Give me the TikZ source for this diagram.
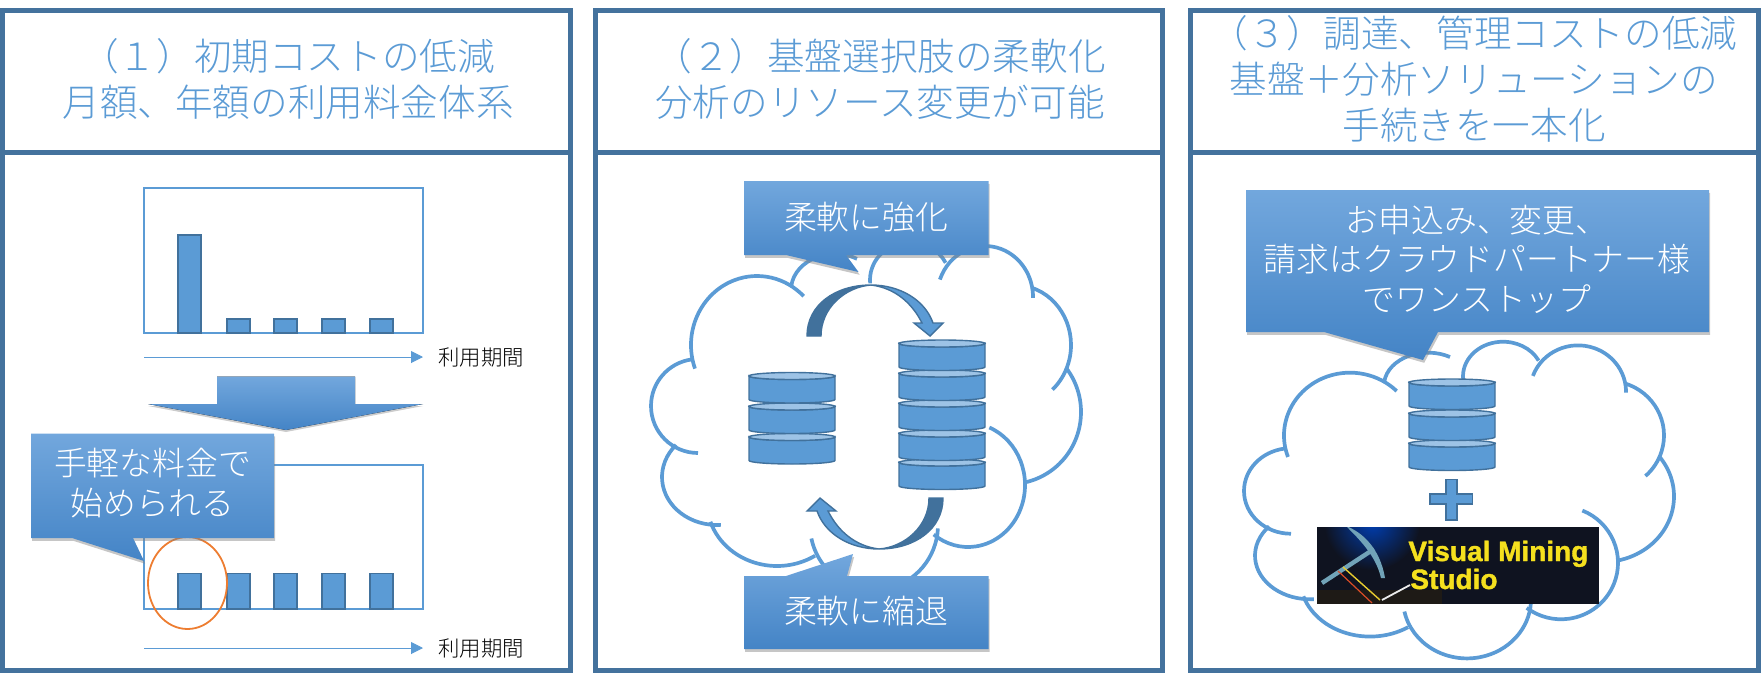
\documentclass[tikz,border=0pt]{standalone}
\usepackage{fontspec}
\setmainfont{Noto Sans CJK JP Light}
\newfontfamily\logofont[BoldFeatures={FakeBold=1.3}]{Liberation Sans}
\usetikzlibrary{positioning,arrows.meta,shadows}
\definecolor{framecol}{HTML}{44729D}
\definecolor{officeblue}{HTML}{5B9BD5}
\definecolor{darkblue}{HTML}{41719C}
\definecolor{lightblue}{HTML}{9DC3E6}
\definecolor{gradtop}{HTML}{72A7DD}
\definecolor{gradbot}{HTML}{4484C6}
\definecolor{ringcol}{HTML}{ED7D31}
\definecolor{logobg}{HTML}{0F1320}
\definecolor{logobrown}{HTML}{1E1A16}
\definecolor{logoyellow}{HTML}{F5E01E}
\tikzset{
  dbstack/.pic={
    \foreach \ty in {#1} {
      \draw[dbedge, fill=officeblue] (-43,\ty+3.5) -- (-43,\ty+27) arc[start angle=180, end angle=0, x radius=43, y radius=3.5] -- (43,\ty+3.5) arc[start angle=0, end angle=180, x radius=43, y radius=3.5] -- cycle;
      \draw[dbedge, fill=lightblue] (0,\ty+3.5) ellipse[x radius=43, y radius=3.5];
    }
  },
  cloudshape/.pic={
    \foreach \cx/\cy/\rx/\ry/\sa/\ea in {167/195/66/69/160/315, 245/140/44/36/186/300, 320/130/40/38/175/333, 395/147/48/51/200/361, 425/195/56/60/287/408, 420/262/71/72/322/439, 378/335/57/62/292/487, 284/375/64/65/168/3, 187/352/70/64/162/57, 127/327/55/48/86/222, 108/256/47/47/90/262} {
      \draw[cloudedge] ({\cx+\rx*cos(\sa)},{#1*(\cy+\ry*sin(\sa))}) arc[start angle=\sa, end angle=\ea, x radius=\rx, y radius={#1*\ry}];
    }
  },
  turnarrow/.pic={
    \filldraw[dbedge, fill=darkblue] (-68,-81) .. controls (-68,-112) and (-40,-132) .. (-4,-132) .. controls (-30,-130) and (-54,-109) .. (-54,-81) -- cycle;
    \filldraw[dbedge, fill=officeblue] (-4,-132) .. controls (25,-132) and (50,-117) .. (58,-94) -- (68,-94) -- (55,-81) -- (39,-94) -- (47,-94) .. controls (37,-114) and (20,-129) .. (-4,-132) -- cycle;
  }
}
\begin{document}
\begin{tikzpicture}[
  x=0.5pt, y=-0.5pt,
  panelframe/.style={draw=framecol, line width=2.5pt},
  chartbox/.style={draw=officeblue, line width=0.8pt},
  chartbar/.style={draw=darkblue, fill=officeblue, line width=0.9pt},
  timeaxis/.style={draw=officeblue, line width=0.5pt, -{Triangle[length=6pt,width=6pt]}},
  axislabel/.style={font={\fontsize{10.7}{12}\selectfont}, text=black},
  dbedge/.style={draw=darkblue, line width=0.7pt},
  cloudedge/.style={draw=officeblue, line width=1.85pt},
  headtext/.style={align=center, text=officeblue, font={\fontsize{18.8}{23}\selectfont}},
  calloutfill/.style={top color=gradtop, bottom color=gradbot, draw=none, drop shadow={shadow xshift=0.6pt, shadow yshift=-1.4pt, opacity=0.45}},
  callouttext/.style={align=center, text=white, font={\fontsize{16.4}{19.7}\selectfont}}
]
\useasboundingbox (0,0) rectangle (1763,675);
\draw[panelframe] (2,10.5) rectangle (570,670);
\draw[panelframe] (2,152) -- (570,152);
\draw[panelframe] (595,10.5) rectangle (1162,670);
\draw[panelframe] (595,152) -- (1162,152);
\draw[panelframe] (1190,10.5) rectangle (1758,670);
\draw[panelframe] (1190,152) -- (1758,152);
\node[headtext] (head1) at (288,79) {（１）初期コストの低減\\月額、年額の利用料金体系};
\node[headtext] (head2) at (880,79) {（２）基盤選択肢の柔軟化\\分析のリソース変更が可能};
\node[headtext] (head3) at (1474,79) {（３）調達、管理コストの低減\\基盤＋分析ソリューションの\\手続きを一本化};
\draw[chartbox] (144,188) rectangle (423,333);
\draw[chartbar] (178,235) rectangle (201,333);
\foreach \bx in {227,274,322,370} {
  \draw[chartbar] (\bx,319) rectangle (\bx+23,333);
}
\coordinate (axis1s) at (144,357);
\coordinate (axis1e) at (423,357);
\draw[timeaxis] (axis1s) -- (axis1e);
\node[axislabel] (period1) at (481,357) {利用期間};
\fill[top color=gradtop, bottom color=gradbot, drop shadow={shadow xshift=0pt, shadow yshift=-1pt, opacity=0.4}] (217,376.5) -- (355,376.5) -- (355,404) -- (423,404) -- (286,430) -- (148,404) -- (217,404) -- cycle;
\draw[chartbox] (144,465) rectangle (423,609);
\foreach \bx in {178,227,274,322,370} {
  \draw[chartbar] (\bx,573.5) rectangle (\bx+23,609);
}
\draw[draw=ringcol, line width=0.9pt] (187.5,583) ellipse[x radius=39.5, y radius=46];
\coordinate (axis2s) at (144,648);
\coordinate (axis2e) at (423,648);
\draw[timeaxis] (axis2s) -- (axis2e);
\node[axislabel] (period2) at (481,648) {利用期間};
\path[calloutfill] (31,433.5) -- (274,433.5) -- (274,538) -- (133,538) -- (144,561) -- (72,538) -- (31,538) -- cycle;
\node[callouttext] (call1) at (152.5,483) {手軽な料金で\\始められる};
\pic at (590,150) {cloudshape=1};
\pic at (792,372.5) {dbstack={61,30.5,0}};
\pic at (942,340) {dbstack={119,90,60,30,0}};
\pic at (875,417) {turnarrow};
\pic[rotate=180] at (875,417) {turnarrow};
\path[calloutfill] (744,181) -- (988.5,181) -- (988.5,255) -- (846,255) -- (858.5,272) -- (786,255) -- (744,255) -- cycle;
\node[callouttext] (call2) at (866,217) {柔軟に強化};
\path[calloutfill] (744,576) -- (786,576) -- (853,554) -- (847,576) -- (988.5,576) -- (988.5,649) -- (744,649) -- cycle;
\node[callouttext] (call3) at (866,611) {柔軟に縮退};
\pic at (1183,258) {cloudshape=0.91};
\pic at (1452,379) {dbstack={61,31,0}};
\filldraw[dbedge, fill=officeblue] (1446,479.5) -- (1457,479.5) -- (1457,494) -- (1472.5,494) -- (1472.5,504) -- (1457,504) -- (1457,520) -- (1446,520) -- (1446,504) -- (1430,504) -- (1430,494) -- (1446,494) -- cycle;
\fill[logobg] (1317,527) rectangle (1599,604);
\begin{scope}
\clip (1317,527) rectangle (1599,604);
\fill[logobrown] (1317,590) rectangle (1442,604);
\shade[inner color=blue!65!cyan!70!black, outer color=logobg] (1372,522) circle[radius=48];
\fill[cyan!40!gray] (1346,526) .. controls (1362,532) and (1380,548) .. (1385,578) -- (1381,578) .. controls (1376,556) and (1360,540) .. (1346,526) -- cycle;
\draw[cyan!40!gray, line width=2.2pt] (1374,549) -- (1322,583);
\draw[yellow!60!brown, line width=0.7pt] (1343,567) -- (1380,600);
\draw[red!40!brown, line width=0.6pt] (1338,571) -- (1372,603);
\draw[white!85!gray, line width=0.9pt] (1382,600) -- (1410,585);
\end{scope}
\node[font={\logofont\bfseries\fontsize{14}{16}\selectfont}, text=logoyellow, anchor=base west, inner sep=0pt] (logoa) at (1408,561) {Visual Mining};
\node[font={\logofont\bfseries\fontsize{14}{16}\selectfont}, text=logoyellow, anchor=base west, inner sep=0pt] (logob) at (1410,589) {Studio};
\path[calloutfill] (1246,190) -- (1709,190) -- (1709,332) -- (1438,332) -- (1423,360) -- (1324,332) -- (1246,332) -- cycle;
\node[callouttext] (call4) at (1477,259) {お申込み、変更、\\請求はクラウドパートナー様\\でワンストップ};
\end{tikzpicture}
\end{document}
